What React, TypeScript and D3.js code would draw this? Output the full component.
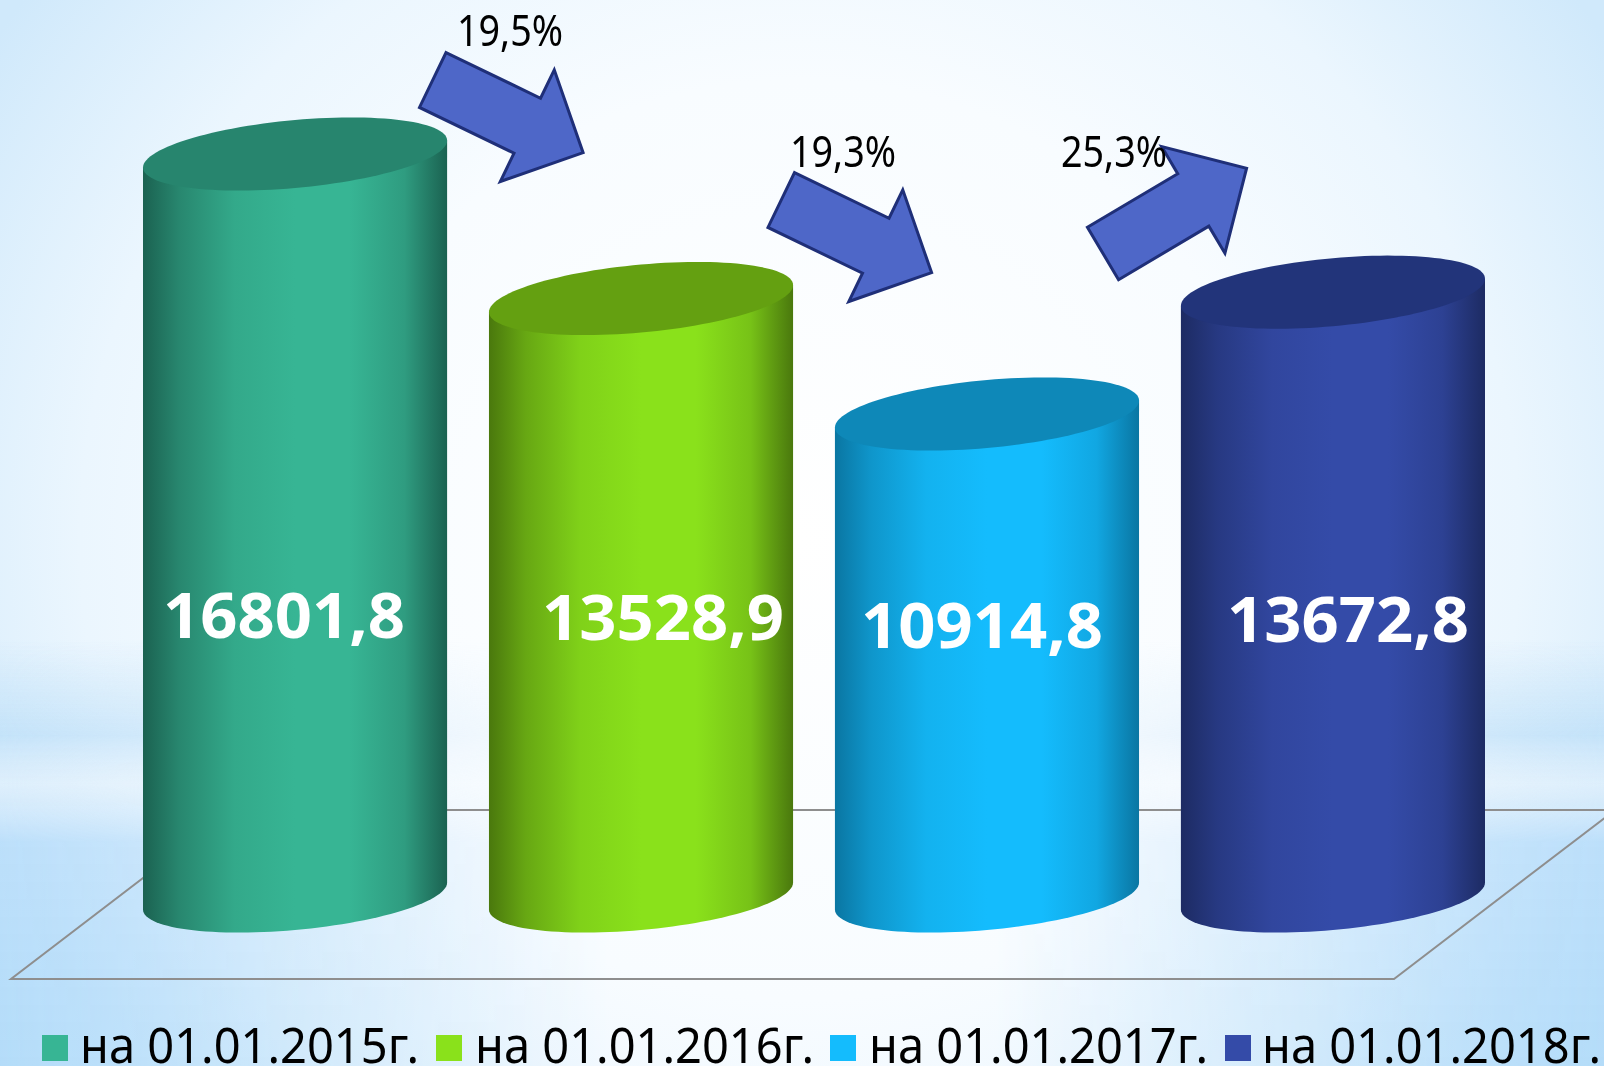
import React from "react";
import * as d3 from "d3";

const W = 1604, H = 1066;

const seriesNames = ["на 01.01.2015г.", "на 01.01.2016г.", "на 01.01.2017г.", "на 01.01.2018г."];
const seriesValues = [16801.8, 13528.9, 10914.8, 13672.8];
const valueLabels = ["16801,8", "13528,9", "10914,8", "13672,8"];
const bodyColors = ["#37b594", "#8ae11b", "#14bcfd", "#344ba8"];
const edgeColors = ["#1b6251", "#4a780d", "#0a76a2", "#1d2b63"];
const topColors = ["#27856e", "#64a011", "#0e88b8", "#22347a"];
const labelDx = [-11, 22, -5, 15];
const labelBaseline = [638, 640, 648, 642];
const changeLabels = ["19,5%", "19,3%", "25,3%"];
const changeTextX = [457, 790, 1061];
const changeBaseline = [46, 167, 167];
const arrowTailX = [432.75, 781.25, 1103];
const arrowTailY = [80, 200, 253.5];
const arrowAngle = [25.8, 25.8, -30.7];
const legendSwatchX = [42, 436, 830, 1225];
const legendTextX = [80, 475, 869, 1262];

const x = d3.scaleBand<number>().domain(d3.range(4)).range([143, 1485]).paddingInner(0.121);
const y = d3.scaleLinear().domain([0, 16801.8]).range([896, 154]);
const B = 34, S = 13.5;

const angles = d3.range(0, 361, 3).map((d) => (d * Math.PI) / 180);
const lineGen = d3.line<[number, number]>();

function ellipsePts(cx: number, cy: number, a: number, list: number[]): [number, number][] {
  return list.map((t) => [cx + a * Math.cos(t), cy + B * Math.sin(t) - S * Math.cos(t)]);
}

function arrowPath(): string {
  const L = 167, sw = 30.5, hw = 62, hl = 62;
  return lineGen([[0, -sw], [L - hl, -sw], [L - hl, -hw], [L, 0], [L - hl, hw], [L - hl, sw], [0, sw]])! + "Z";
}

const FONT = "'Noto Sans'";

export default function App() {
  const a = x.bandwidth() / 2;
  return (
    <svg width={W} height={H} viewBox={`0 0 ${W} ${H}`} style={{ position: "fixed", left: 0, top: 0, display: "block" }}>
      <defs>
        <radialGradient id="bg" gradientUnits="userSpaceOnUse" cx={0} cy={0} r={1}
          gradientTransform="translate(800 540) scale(960 920)">
          <stop offset="0" stopColor="#ffffff" />
          <stop offset="0.5" stopColor="#f8fcff" />
          <stop offset="0.75" stopColor="#ebf6fe" />
          <stop offset="1" stopColor="#d0e9fb" />
        </radialGradient>
        <linearGradient id="side" gradientUnits="userSpaceOnUse" x1="0" x2="0" y1="0" y2={H}>
          <stop offset="0.6" stopColor="#bfe0f8" stopOpacity="0" />
          <stop offset="0.69" stopColor="#bfe0f8" stopOpacity="0.85" />
          <stop offset="0.735" stopColor="#dcedfb" stopOpacity="0.5" />
          <stop offset="0.79" stopColor="#badefa" stopOpacity="0.95" />
          <stop offset="1" stopColor="#b4dcf9" stopOpacity="1" />
        </linearGradient>
        <linearGradient id="sideFade" gradientUnits="userSpaceOnUse" x1="0" x2={W} y1="0" y2="0">
          <stop offset="0" stopColor="#fff" />
          <stop offset="0.18" stopColor="#777" />
          <stop offset="0.38" stopColor="#000" />
          <stop offset="0.62" stopColor="#000" />
          <stop offset="0.82" stopColor="#777" />
          <stop offset="1" stopColor="#fff" />
        </linearGradient>
        <mask id="sideMask" maskUnits="userSpaceOnUse" x={0} y={0} width={W} height={H}>
          <rect width={W} height={H} fill="url(#sideFade)" />
        </mask>
        {seriesValues.map((_, i) => (
          <linearGradient key={i} id={`body${i}`} x1="0" x2="1" y1="0" y2="0">
            <stop offset="0" stopColor={edgeColors[i]} />
            <stop offset="0.12" stopColor={d3.interpolateRgb(edgeColors[i], bodyColors[i])(0.45)} />
            <stop offset="0.3" stopColor={d3.interpolateRgb(edgeColors[i], bodyColors[i])(0.85)} />
            <stop offset="0.5" stopColor={bodyColors[i]} />
            <stop offset="0.68" stopColor={bodyColors[i]} />
            <stop offset="0.86" stopColor={d3.interpolateRgb(edgeColors[i], bodyColors[i])(0.7)} />
            <stop offset="1" stopColor={edgeColors[i]} />
          </linearGradient>
        ))}
      </defs>

      <rect width={W} height={H} fill="url(#bg)" />
      <rect width={W} height={H} fill="url(#side)" mask="url(#sideMask)" />

      <path d={lineGen([[232, 810], [1615, 810], [1394, 979], [11, 979]])! + "Z"}
        fill="none" stroke="#8e8e8e" strokeWidth={2} />

      {seriesValues.map((v, i) => {
        const cx = x(i)! + a;
        const top = y(v);
        const base = y(0);
        const lower = d3.range(0, 181, 3).map((d) => (d * Math.PI) / 180);
        const bottomPts = ellipsePts(cx, base, a, lower);
        const bodyPts: [number, number][] = [[cx + a, top - S], ...bottomPts, [cx - a, top + S]];
        return (
          <g key={i}>
            <path d={lineGen(bodyPts)! + "Z"} fill={`url(#body${i})`} />
            <path d={lineGen(ellipsePts(cx, top, a, angles))! + "Z"} fill={topColors[i]} />
            <text x={cx + labelDx[i]} y={labelBaseline[i]} textAnchor="middle"
              textLength={242} lengthAdjust="spacingAndGlyphs"
              fontFamily={FONT} fontWeight="bold" fontSize={63} fill="#fff">
              {valueLabels[i]}
            </text>
          </g>
        );
      })}

      {changeLabels.map((_, i) => (
        <path key={i} d={arrowPath()} transform={`translate(${arrowTailX[i]} ${arrowTailY[i]}) rotate(${arrowAngle[i]})`}
          fill="#4e67c8" stroke="#1f2f78" strokeWidth={3} strokeLinejoin="miter" />
      ))}
      {changeLabels.map((t, i) => (
        <text key={i} x={changeTextX[i]} y={changeBaseline[i]} textLength={106} lengthAdjust="spacingAndGlyphs"
          fontFamily={FONT} fontSize={43} fill="#000">{t}</text>
      ))}

      {seriesNames.map((t, i) => (
        <g key={i}>
          <rect x={legendSwatchX[i]} y={1035} width={26} height={26} fill={bodyColors[i]} />
          <text x={legendTextX[i]} y={1063} textLength={339} lengthAdjust="spacingAndGlyphs"
            fontFamily={FONT} fontSize={49} fill="#000">{t}</text>
        </g>
      ))}
    </svg>
  );
}
